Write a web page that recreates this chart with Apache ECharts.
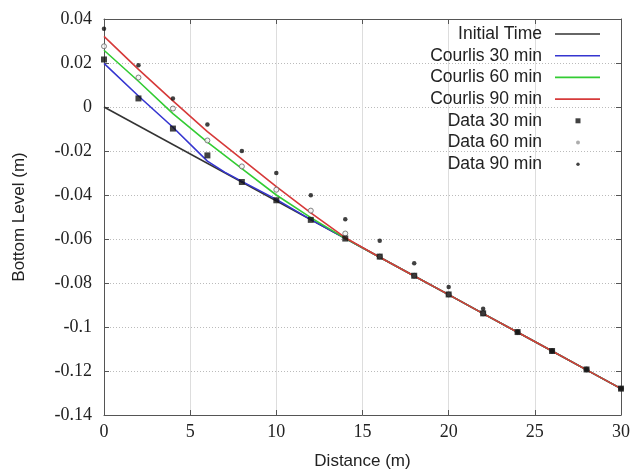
<!DOCTYPE html>
<html>
<head>
<meta charset="utf-8">
<script src="https://cdn.jsdelivr.net/npm/echarts@6/dist/echarts.min.js"></script>
<style>
html,body{margin:0;padding:0;background:#fff;}
#chart{width:633px;height:475px;}
</style>
</head>
<body>
<div id="chart"></div>
<script>
// ---- data ----
const distData = [0, 2, 4, 6, 8, 10, 12, 14, 16, 18, 20, 22, 24, 26, 28, 30];

const data30 = [0.0216, 0.0039, -0.0098, -0.0220, -0.0341, -0.0424, -0.0513, -0.0598,
                -0.0680, -0.0767, -0.0852, -0.0938, -0.1023, -0.1109, -0.1193, -0.1280];
const data60 = [0.0276, 0.0134, -0.0007, -0.0152, -0.0270, -0.0376, -0.0471, -0.0575,
                -0.0680, -0.0767, -0.0852, -0.0938, -0.1023, -0.1109, -0.1193, -0.1280];
const data90 = [0.0356, 0.0190, 0.0039, -0.0080, -0.0200, -0.0300, -0.0401, -0.0510,
                -0.0608, -0.0710, -0.0818, -0.0917, -0.1023, -0.1109, -0.1193, -0.1280];

const initX = [0, 30];
const initY = [0, -0.128];

const c30X = [0, 2, 4, 6, 7, 8, 10, 12, 14, 16, 18, 20, 22, 24, 26, 28, 30];
const c30Y = [0.0198, 0.0050, -0.0092, -0.0246, -0.0296, -0.0338, -0.0420, -0.0512, -0.0597,
              -0.0683, -0.0768, -0.0853, -0.0939, -0.1024, -0.1109, -0.1195, -0.1280];

const cX = [0, 2, 4, 6, 8, 10, 12, 14, 16, 18, 20, 22, 24, 26, 28, 30];
const c60Y = [0.0258, 0.0117, -0.0030, -0.0160, -0.0280, -0.0400, -0.0503, -0.0597,
              -0.0683, -0.0768, -0.0853, -0.0939, -0.1024, -0.1109, -0.1195, -0.1280];
const c90Y = [0.0321, 0.0171, 0.0028, -0.0112, -0.0237, -0.0362, -0.0481, -0.0594,
              -0.0683, -0.0768, -0.0853, -0.0939, -0.1024, -0.1109, -0.1195, -0.1280];

const xTicks = [0, 5, 10, 15, 20, 25, 30];
const yTickLabels = ['-0.14', '-0.12', '-0.1', '-0.08', '-0.06', '-0.04', '-0.02', '0', '0.02', '0.04'];

const seriesNames = ['Initial Time', 'Courlis 30 min', 'Courlis 60 min', 'Courlis 90 min',
                     'Data 30 min', 'Data 60 min', 'Data 90 min'];

// ---- helpers ----
const zip = (xs, ys) => xs.map((x, i) => [x, ys[i]]);
const yMin = -0.14, yMax = 0.04, yStep = 0.02;
function yLabel(v) {
  const idx = Math.round((v - yMin) / yStep);
  return yTickLabels[idx] !== undefined ? yTickLabels[idx] : '';
}

const lineIcon = 'path://M0,0M45,14M0,6.2h45v1.6h-45z';
const sqIcon = 'path://M0,0M45,14M20.5,4.5h5v5h-5z';
const dotIcon = 'path://M0,0M45,14M21,7a2,2 0 1,0 4,0a2,2 0 1,0 -4,0z';
const smallDotIcon = 'path://M0,0M45,14M21.3,7a1.7,1.7 0 1,0 3.4,0a1.7,1.7 0 1,0 -3.4,0z';

const chart = echarts.init(document.getElementById('chart'), null, {renderer: 'canvas'});

const frameColor = '#555';
const axisBase = {
  axisLine: {show: true, onZero: false, lineStyle: {color: frameColor, width: 1}},
  axisTick: {show: true, inside: true, length: 5, lineStyle: {color: frameColor}},
};

function lineSeries(name, data, color, width) {
  return {
    name, type: 'line', data, symbol: 'none', smooth: false,
    lineStyle: {color, width}, itemStyle: {color},
    emphasis: {disabled: true}, animation: false, z: 2
  };
}

const option = {
  animation: false,
  backgroundColor: '#fff',
  grid: {left: 104, right: 11, top: 19, bottom: 59, containLabel: false},
  legend: {
    orient: 'vertical',
    align: 'right',
    right: 33,
    top: 25,
    padding: 0,
    itemWidth: 45,
    itemHeight: 14,
    itemGap: 3.7,
    selectedMode: false,
    textStyle: {
      fontFamily: 'Liberation Sans, Arial, sans-serif',
      fontSize: 17.5,
      color: '#222',
      lineHeight: 14,
      padding: [0, 8, 0, 0]
    },
    data: [
      {name: seriesNames[0], icon: lineIcon},
      {name: seriesNames[1], icon: lineIcon},
      {name: seriesNames[2], icon: lineIcon},
      {name: seriesNames[3], icon: lineIcon},
      {name: seriesNames[4], icon: sqIcon, itemStyle: {color: '#111', borderWidth: 0}},
      {name: seriesNames[5], icon: dotIcon, itemStyle: {color: '#999', borderWidth: 0}},
      {name: seriesNames[6], icon: smallDotIcon, itemStyle: {color: '#111', borderWidth: 0}}
    ]
  },
  xAxis: [
    Object.assign({
      type: 'value', min: 0, max: 30, interval: 5, position: 'bottom',
      name: 'Distance (m)', nameLocation: 'middle', nameGap: 38,
      nameTextStyle: {fontFamily: 'Liberation Sans, Arial, sans-serif', fontSize: 17, color: '#222'},
      axisLabel: {
        margin: 8, color: '#222', fontFamily: 'Liberation Serif, Times New Roman, serif', fontSize: 18,
        formatter: v => (xTicks.indexOf(v) >= 0 ? String(v) : '')
      },
      splitLine: {show: true, lineStyle: {color: '#dddddd', width: 1, type: 'solid'}}
    }, axisBase),
    Object.assign({
      type: 'value', min: 0, max: 30, interval: 5, position: 'top',
      axisLabel: {show: false}, splitLine: {show: false}
    }, axisBase)
  ],
  yAxis: [
    Object.assign({
      type: 'value', min: yMin, max: yMax, interval: yStep, position: 'left',
      name: 'Bottom Level (m)', nameLocation: 'middle', nameGap: 76,
      nameTextStyle: {fontFamily: 'Liberation Sans, Arial, sans-serif', fontSize: 17, color: '#222'},
      axisLabel: {
        margin: 12, color: '#222', fontFamily: 'Liberation Serif, Times New Roman, serif', fontSize: 18,
        formatter: yLabel
      },
      splitLine: {show: true, lineStyle: {color: '#bbb', width: 1, type: [1, 2]}}
    }, axisBase),
    Object.assign({
      type: 'value', min: yMin, max: yMax, interval: yStep, position: 'right',
      axisLabel: {show: false}, splitLine: {show: false}
    }, axisBase)
  ],
  series: [
    lineSeries(seriesNames[0], zip(initX, initY), '#333333', 1.6),
    lineSeries(seriesNames[1], zip(c30X, c30Y), '#3535d0', 1.6),
    lineSeries(seriesNames[2], zip(cX, c60Y), '#33cc33', 1.6),
    lineSeries(seriesNames[3], zip(cX, c90Y), '#d63a3a', 1.6),
    {
      name: seriesNames[4], type: 'scatter', data: zip(distData, data30),
      symbol: 'rect', symbolSize: 6, itemStyle: {color: '#111'}, z: 5,
      emphasis: {disabled: true}
    },
    {
      name: seriesNames[5], type: 'scatter', data: zip(distData, data60),
      symbol: 'circle', symbolSize: 5, itemStyle: {color: '#f4f4f4', borderColor: '#666', borderWidth: 1}, z: 4,
      emphasis: {disabled: true}
    },
    {
      name: seriesNames[6], type: 'scatter', data: zip(distData, data90),
      symbol: 'circle', symbolSize: 4.5, itemStyle: {color: '#111'}, z: 4,
      emphasis: {disabled: true}
    }
  ]
};

chart.setOption(option);
</script>
</body>
</html>
